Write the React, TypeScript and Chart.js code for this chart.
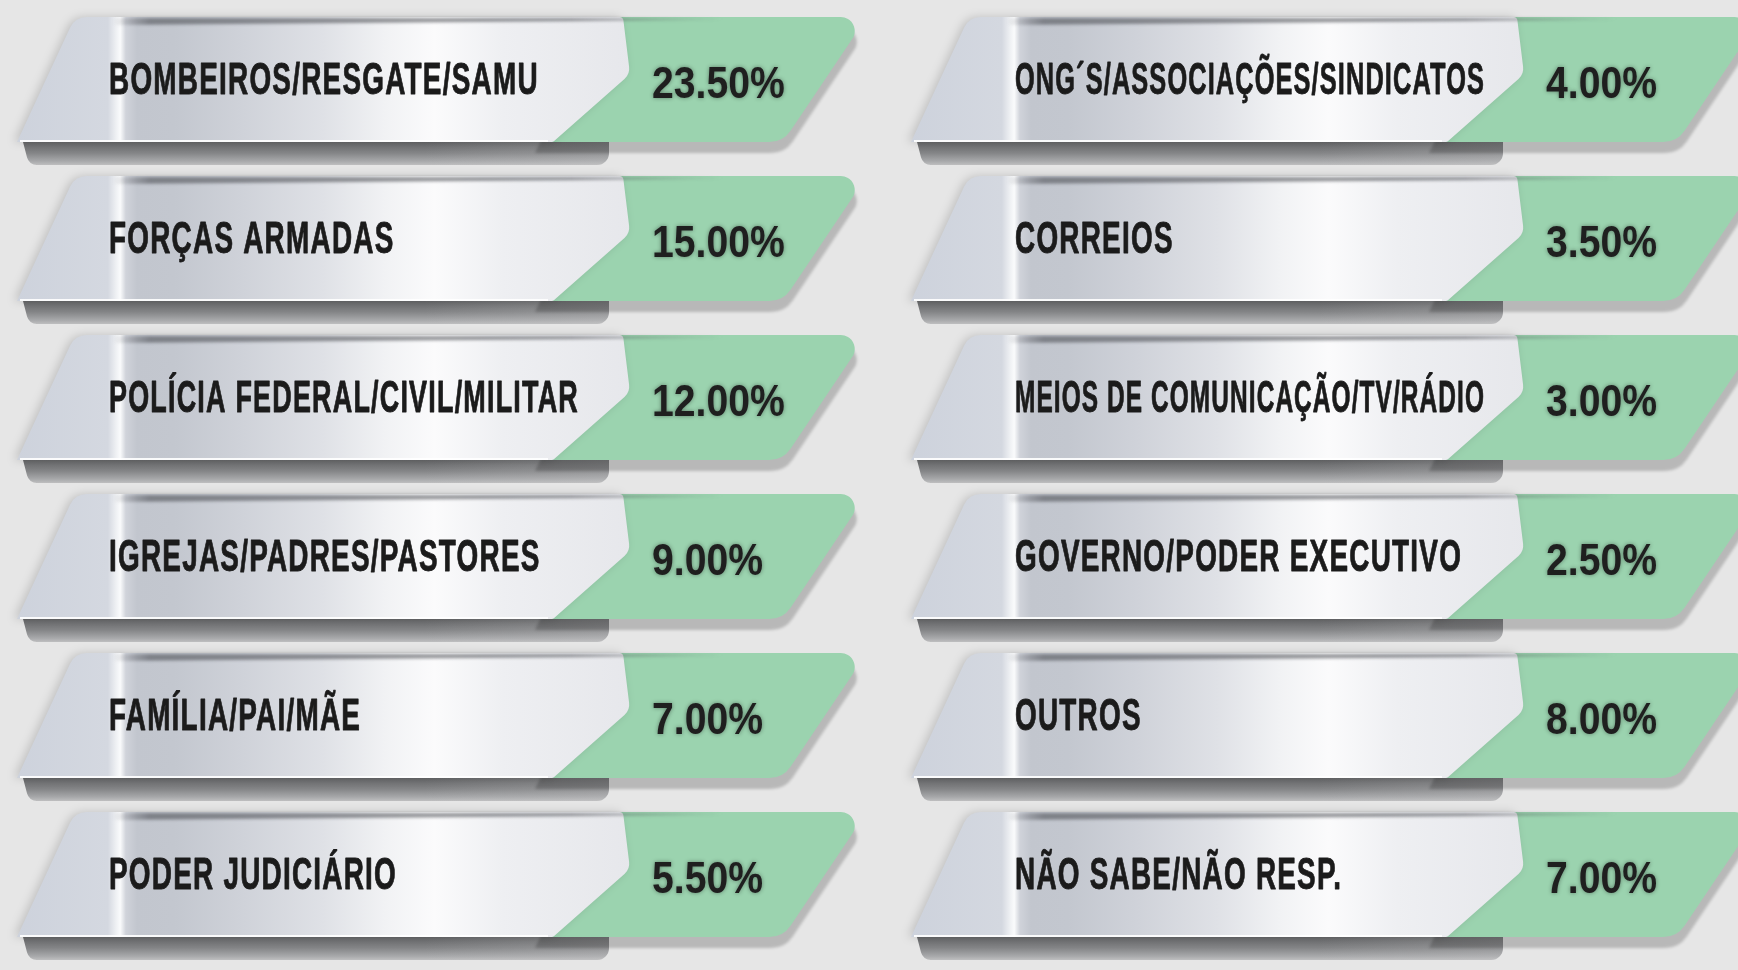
import React, { useEffect, useRef } from 'react';
import { Chart, registerables } from 'chart.js';

Chart.register(...registerables);

// ---- data ----
const LEFT_CATEGORIES = [
  'BOMBEIROS/RESGATE/SAMU',
  'FORÇAS ARMADAS',
  'POLÍCIA FEDERAL/CIVIL/MILITAR',
  'IGREJAS/PADRES/PASTORES',
  'FAMÍLIA/PAI/MÃE',
  'PODER JUDICIÁRIO',
];
const LEFT_VALUES = [23.5, 15.0, 12.0, 9.0, 7.0, 5.5];

const RIGHT_CATEGORIES = [
  'ONG´S/ASSOCIAÇÕES/SINDICATOS',
  'CORREIOS',
  'MEIOS DE COMUNICAÇÃO/TV/RÁDIO',
  'GOVERNO/PODER EXECUTIVO',
  'OUTROS',
  'NÃO SABE/NÃO RESP.',
];
const RIGHT_VALUES = [4.0, 3.5, 3.0, 2.5, 8.0, 7.0];

const COLUMNS = [
  { categories: LEFT_CATEGORIES, values: LEFT_VALUES },
  { categories: RIGHT_CATEGORIES, values: RIGHT_VALUES },
];

// ---- style constants ----
const W = 1738;
const H = 970;
const LABEL_OFFSET = [-514, -502];
const GREEN = '#9bd3af';
const LABEL_SIZE = 45;
const LABEL_SCALE = 0.62;
const LABEL_MAX = 470;

type P = [number, number, number];

function roundPoly(ctx: CanvasRenderingContext2D, pts: P[]) {
  const n = pts.length;
  const a = pts[n - 1];
  const b = pts[0];
  ctx.beginPath();
  ctx.moveTo((a[0] + b[0]) / 2, (a[1] + b[1]) / 2);
  for (let i = 0; i < n; i++) {
    const p = pts[i];
    const q = pts[(i + 1) % n];
    if (p[2] > 0) ctx.arcTo(p[0], p[1], q[0], q[1], p[2]);
    else ctx.lineTo(p[0], p[1]);
  }
  ctx.closePath();
}

function drawRibbon(
  ctx: CanvasRenderingContext2D,
  ox: number,
  cy: number,
  label: string,
  value: number,
  col: number
) {
  const top = cy - 63;
  const bot = cy + 62;

  // fold band under the silver
  ctx.save();
  const bg = ctx.createLinearGradient(0, bot, 0, bot + 24);
  bg.addColorStop(0, '#666769');
  bg.addColorStop(0.45, '#838486');
  bg.addColorStop(0.8, '#a8a9ab');
  bg.addColorStop(1, '#c4c4c5');
  ctx.fillStyle = bg;
  roundPoly(ctx, [
    [ox - 600, bot, 0],
    [ox - 14, bot, 0],
    [ox - 14, bot + 23, 12],
    [ox - 594, bot + 23, 10],
  ]);
  ctx.fill();
  const fade = ctx.createLinearGradient(ox - 200, 0, ox - 14, 0);
  fade.addColorStop(0, 'rgba(200,200,202,0)');
  fade.addColorStop(1, 'rgba(200,200,202,0.25)');
  ctx.fillStyle = fade;
  ctx.fill();
  ctx.restore();

  // green tab
  ctx.save();
  ctx.shadowColor = 'rgba(0,0,0,0.2)';
  ctx.shadowBlur = 3;
  ctx.shadowOffsetY = 11;
  ctx.shadowOffsetX = 2;
  ctx.fillStyle = GREEN;
  roundPoly(ctx, [
    [ox - 30, top, 0],
    [ox + 244, top, 14],
    [ox + 160, bot, 26],
    [ox - 90, bot, 0],
  ]);
  ctx.fill();
  ctx.restore();

  // silver body
  ctx.save();
  ctx.shadowColor = 'rgba(0,0,0,0.16)';
  ctx.shadowBlur = 10;
  ctx.shadowOffsetX = -3;
  const g = ctx.createLinearGradient(ox - 610, 0, ox + 10, 0);
  g.addColorStop(0, '#cdd2dc');
  g.addColorStop(0.153, '#d4d8e0');
  g.addColorStop(0.166, '#eef0f3');
  g.addColorStop(0.173, '#fafbfc');
  g.addColorStop(0.182, '#d0d3da');
  g.addColorStop(0.2, '#c2c6ce');
  g.addColorStop(0.26, '#c3c7cf');
  g.addColorStop(0.37, '#cfd2d9');
  g.addColorStop(0.5, '#dfe1e6');
  g.addColorStop(0.6, '#f1f2f4');
  g.addColorStop(0.68, '#fbfbfc');
  g.addColorStop(0.79, '#eeeff2');
  g.addColorStop(1, '#e6e7eb');
  ctx.fillStyle = g;
  roundPoly(ctx, [
    [ox - 548, top, 18],
    [ox, top, 4],
    [ox + 7, cy - 6, 14],
    [ox - 70, bot, 4],
    [ox - 606, bot, 0],
  ]);
  ctx.fill();
  ctx.restore();

  // bottom highlight line
  ctx.save();
  ctx.strokeStyle = 'rgba(255,255,255,0.9)';
  ctx.lineWidth = 2;
  ctx.beginPath();
  ctx.moveTo(ox - 603, bot - 1);
  ctx.lineTo(ox - 75, bot - 1);
  ctx.stroke();
  ctx.restore();

  // top rim (blurred dark line)
  ctx.save();
  ctx.filter = 'blur(1.6px)';
  const rg = ctx.createLinearGradient(ox - 510, 0, ox + 100, 0);
  rg.addColorStop(0, 'rgba(70,72,78,0)');
  rg.addColorStop(0.06, 'rgba(70,72,78,0.55)');
  rg.addColorStop(0.75, 'rgba(70,72,78,0.55)');
  rg.addColorStop(1, 'rgba(70,72,78,0)');
  ctx.fillStyle = rg;
  ctx.beginPath();
  ctx.moveTo(ox - 510, top + 1);
  ctx.lineTo(ox + 100, top + 1);
  ctx.lineTo(ox + 100, top + 3);
  ctx.lineTo(ox - 510, top + 8);
  ctx.closePath();
  ctx.fill();
  ctx.restore();

  // label (condensed bold)
  ctx.save();
  ctx.fillStyle = '#1b1b1b';
  ctx.strokeStyle = '#1b1b1b';
  ctx.lineWidth = 0.9;
  ctx.lineJoin = 'round';
  ctx.font = `bold ${LABEL_SIZE}px "Liberation Sans", Arial, sans-serif`;
  (ctx as any).letterSpacing = '2px';
  ctx.textBaseline = 'alphabetic';
  ctx.translate(ox + LABEL_OFFSET[col], cy + 14);
  ctx.scale(LABEL_SCALE, 1);
  const maxW = LABEL_MAX / LABEL_SCALE;
  ctx.fillText(label, 0, 0, maxW);
  ctx.strokeText(label, 0, 0, maxW);
  ctx.restore();

  // value
  ctx.save();
  ctx.fillStyle = '#1f1f1f';
  ctx.font = 'bold 44px "Liberation Sans", Arial, sans-serif';
  ctx.textBaseline = 'alphabetic';
  ctx.shadowColor = 'rgba(0,0,0,0.4)';
  ctx.shadowBlur = 4;
  ctx.translate(ox + 29, cy + 18);
  ctx.scale(0.89, 1);
  ctx.fillText(value.toFixed(2) + '%', 0, 0);
  ctx.restore();
}

const ribbonPlugin = {
  id: 'ribbons',
  beforeDraw(chart: any) {
    const ctx: CanvasRenderingContext2D = chart.ctx;
    ctx.save();
    ctx.fillStyle = '#e6e6e6';
    ctx.fillRect(0, 0, chart.width, chart.height);
    ctx.restore();
  },
  afterDatasetsDraw(chart: any) {
    const ctx: CanvasRenderingContext2D = chart.ctx;
    COLUMNS.forEach((column, ci) => {
      const meta = chart.getDatasetMeta(ci);
      meta.data.forEach((pt: any, i: number) => {
        drawRibbon(ctx, pt.x, pt.y, column.categories[i], column.values[i], ci);
      });
    });
  },
};

export default function App() {
  const ref = useRef<HTMLCanvasElement | null>(null);

  useEffect(() => {
    if (!ref.current) return;
    const chart = new Chart(ref.current, {
      type: 'scatter',
      data: {
        datasets: COLUMNS.map((column, ci) => ({
          label: ci === 0 ? 'Coluna 1' : 'Coluna 2',
          data: column.values.map((v, i) => ({ x: ci, y: i, v })),
          pointRadius: 0,
          pointHoverRadius: 0,
        })),
      },
      options: {
        responsive: false,
        animation: false,
        events: [],
        layout: { padding: 0 },
        plugins: {
          legend: { display: false },
          tooltip: { enabled: false },
        },
        scales: {
          x: { type: 'linear', display: false, min: -623 / 894, max: -623 / 894 + W / 894 },
          y: { type: 'linear', display: false, reverse: true, min: -80 / 159, max: -80 / 159 + H / 159 },
        },
      },
      plugins: [ribbonPlugin],
    });
    return () => chart.destroy();
  }, []);

  return (
    <div style={{ position: 'fixed', left: 0, top: 0, width: W, height: H, overflow: 'hidden' }}>
      <canvas ref={ref} width={W} height={H} style={{ display: 'block', width: W, height: H }} />
    </div>
  );
}
